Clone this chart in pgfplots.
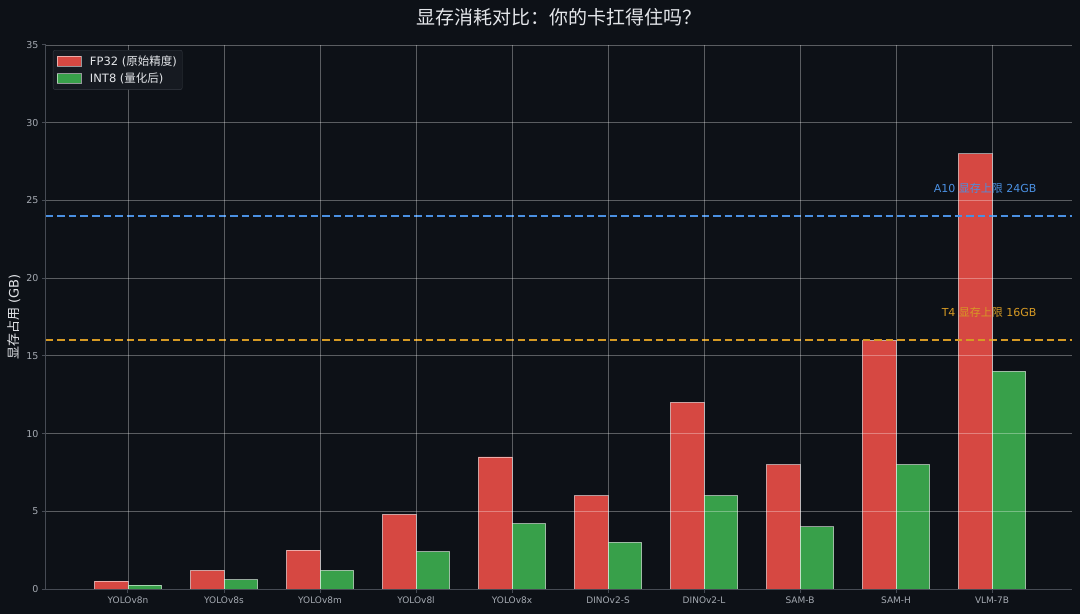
\documentclass[border=0pt]{standalone}
\usepackage{pgfplots}
\pgfplotsset{compat=1.18}
\usepackage{fontspec}
\setmainfont{DejaVu Sans}
\newfontfamily\cjk{Noto Sans CJK SC}
\newcommand\fs[1]{\fontsize{#1}{#1}\selectfont}
\definecolor{bg}{RGB}{13,17,23}
\definecolor{fpred}{RGB}{214,72,66}
\definecolor{intgreen}{RGB}{56,160,74}
\definecolor{spine}{RGB}{70,75,84}
\definecolor{ticklbl}{RGB}{165,170,178}
\definecolor{titlec}{RGB}{228,230,234}
\definecolor{a10c}{RGB}{74,144,226}
\definecolor{t4c}{RGB}{214,154,36}
\definecolor{legbg}{RGB}{22,26,33}
\definecolor{legedge}{RGB}{55,60,68}
\pgfplotstableread{
idx fp32 int8
0 0.5 0.25
1 1.2 0.6
2 2.5 1.2
3 4.8 2.4
4 8.5 4.2
5 6.0 3.0
6 12.0 6.0
7 8.0 4.0
8 16.0 8.0
9 28.0 14.0
}\memtable
\begin{document}
\begin{tikzpicture}[x=1pt,y=1pt]
\fill[bg] (0,0) rectangle (1080,614);
\useasboundingbox (0,0) rectangle (1080,614);
\node[text=titlec, font=\cjk\fs{19}] at (559,597) {显存消耗对比：你的卡扛得住吗？};
\begin{axis}[
  at={(46pt,25pt)}, anchor=south west, scale only axis,
  width=1026pt, height=544pt,
  xmin=-0.854, xmax=9.833, ymin=0, ymax=35,
  xtick={0,...,9},
  xticklabels={YOLOv8n,YOLOv8s,YOLOv8m,YOLOv8l,YOLOv8x,DINOv2-S,DINOv2-L,SAM-B,SAM-H,VLM-7B},
  ytick={0,5,...,35},
  axis x line*=bottom, axis y line*=left,
  axis line style={-, draw=spine, line width=1pt},
  grid=major,
  major grid style={draw=white, draw opacity=0.32, line width=0.8pt},
  tick style={draw=spine, line width=1pt},
  major tick length=4pt, tick align=outside,
  /pgf/number format/assume math mode=true,
  x tick label style={font=\fs{9}, text=ticklbl},
  y tick label style={font=\fs{9.5}, text=ticklbl},
  ylabel={{\cjk 显存占用} (GB)},
  ylabel style={font=\fs{13}, text=titlec, at={(axis description cs:-0.0312,0.5)}, anchor=center},
  axis on top,
  legend cell align=left,
  legend style={at={(0.0068,0.9908)}, anchor=north west, fill=legbg, draw=legedge,
    rounded corners=2pt, text=titlec, font=\fs{11.5}, inner sep=3.5pt,
    row sep=2pt, /tikz/every even column/.append style={column sep=4pt}},
]
\addplot[ybar, bar width=0.35, bar shift=-0.175, fill=fpred, draw=white, draw opacity=0.55, line width=0.7pt,
  legend image code/.code={\draw[sharp corners, fill=fpred, draw=white, draw opacity=0.55, line width=0.6pt] (0pt,-4.5pt) rectangle (24pt,5pt); \path[draw=none, fill=none] (0pt,0pt) rectangle (31pt,0.1pt);}]
  table[x=idx, y=fp32] {\memtable};
\addlegendentry{FP32 ({\cjk 原始精度})}
\addplot[ybar, bar width=0.35, bar shift=0.175, fill=intgreen, draw=white, draw opacity=0.55, line width=0.7pt,
  legend image code/.code={\draw[sharp corners, fill=intgreen, draw=white, draw opacity=0.55, line width=0.6pt] (0pt,-4.5pt) rectangle (24pt,5pt); \path[draw=none, fill=none] (0pt,0pt) rectangle (31pt,0.1pt);}]
  table[x=idx, y=int8] {\memtable};
\addlegendentry{INT8 ({\cjk 量化后})}
\addplot[a10c, line width=2pt, dash pattern=on 7.5pt off 4pt, forget plot] coordinates {(-0.854,24) (9.833,24)};
\addplot[t4c, line width=2pt, dash pattern=on 7.5pt off 4pt, forget plot] coordinates {(-0.854,16) (9.833,16)};
\node[anchor=base east, text=a10c, font=\fs{11}] at (axis cs:9.5,25.5) {A10 {\cjk 显存上限} 24GB};
\node[anchor=base east, text=t4c, font=\fs{11}] at (axis cs:9.5,17.5) {T4 {\cjk 显存上限} 16GB};
\end{axis}
\end{tikzpicture}
\end{document}
